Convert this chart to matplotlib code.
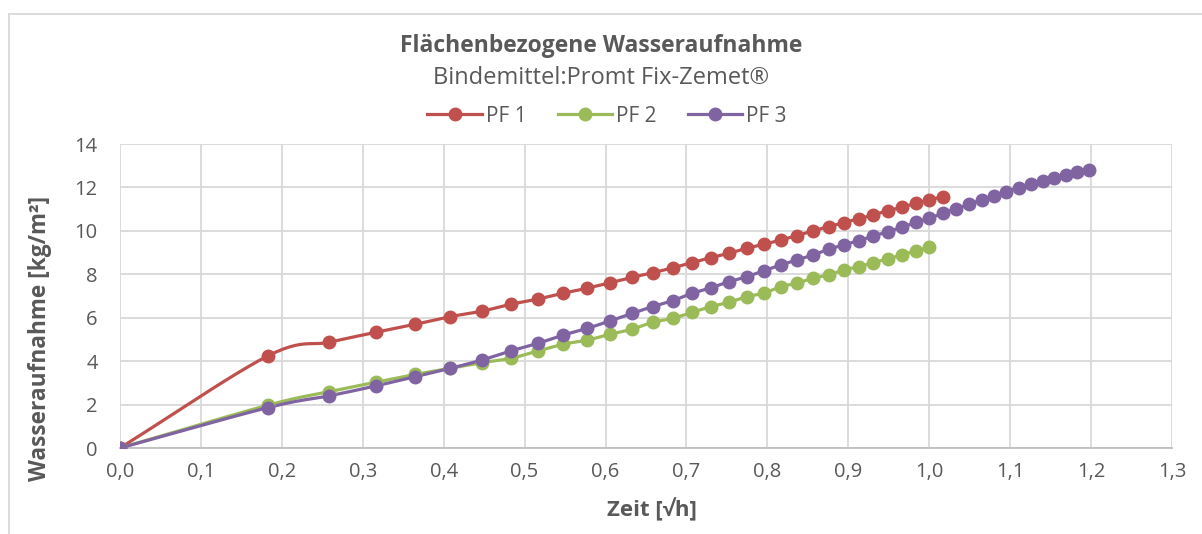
import numpy as np
import matplotlib
matplotlib.use("Agg")
import matplotlib.pyplot as plt
from matplotlib.lines import Line2D

plt.rcParams['font.family'] = ['Open Sans', 'DejaVu Sans']

# Zeit [sqrt h] - gemeinsame Messzeitpunkte
zeit = [0.0, 0.1826, 0.2582, 0.3162, 0.3651, 0.4082, 0.4472, 0.4830, 0.5164,
        0.5477, 0.5774, 0.6055, 0.6325, 0.6583, 0.6831, 0.7071, 0.7303, 0.7528,
        0.7746, 0.7958, 0.8165, 0.8367, 0.8563, 0.8756, 0.8944, 0.9129, 0.9309,
        0.9487, 0.9661, 0.9832, 1.0000, 1.0165, 1.0328, 1.0488, 1.0646, 1.0801,
        1.0954, 1.1106, 1.1255, 1.1402, 1.1547, 1.1690, 1.1832, 1.1972]

pf1 = [0.0, 4.24, 4.87, 5.33, 5.70, 6.05, 6.30, 6.62, 6.86, 7.13, 7.36, 7.61,
       7.86, 8.07, 8.30, 8.54, 8.77, 8.97, 9.20, 9.38, 9.58, 9.78, 10.00, 10.19,
       10.38, 10.56, 10.73, 10.93, 11.08, 11.27, 11.42, 11.58]
pf2 = [0.0, 1.97, 2.59, 3.03, 3.39, 3.67, 3.93, 4.13, 4.47, 4.78, 4.97, 5.24,
       5.47, 5.79, 5.97, 6.25, 6.51, 6.71, 6.97, 7.13, 7.43, 7.59, 7.82, 7.97,
       8.20, 8.35, 8.54, 8.71, 8.89, 9.07, 9.24]
pf3 = [0.0, 1.86, 2.40, 2.86, 3.29, 3.67, 4.05, 4.47, 4.82, 5.20, 5.51, 5.85,
       6.20, 6.51, 6.79, 7.12, 7.38, 7.66, 7.89, 8.17, 8.43, 8.66, 8.89, 9.15,
       9.35, 9.55, 9.76, 9.96, 10.16, 10.39, 10.58, 10.81, 11.01, 11.22, 11.42,
       11.62, 11.81, 11.99, 12.15, 12.31, 12.45, 12.57, 12.70, 12.81]

namen = ['PF 1', 'PF 2', 'PF 3']
farben = ['#C0504D', '#9BBB59', '#8064A2']
x_ticks = np.arange(0, 1.31, 0.1)
y_ticks = np.arange(0, 15, 2)


def glatt(x, y, n=12):
    # Catmull-Rom, wie die "geglaettete Linie" in Excel
    x = np.asarray(x, float)
    y = np.asarray(y, float)
    px = np.concatenate([[2 * x[0] - x[1]], x, [2 * x[-1] - x[-2]]])
    py = np.concatenate([[2 * y[0] - y[1]], y, [2 * y[-1] - y[-2]]])
    xs, ys = [x[0]], [y[0]]
    t = np.linspace(0, 1, n + 1)[1:]
    for i in range(1, len(px) - 2):
        for p, out in ((px, xs), (py, ys)):
            p0, p1, p2, p3 = p[i - 1], p[i], p[i + 1], p[i + 2]
            out.extend(0.5 * (2 * p1 + (-p0 + p2) * t
                              + (2 * p0 - 5 * p1 + 4 * p2 - p3) * t ** 2
                              + (-p0 + 3 * p1 - 3 * p2 + p3) * t ** 3))
    return xs, ys


fig = plt.figure(figsize=(12.02, 5.34), dpi=100)
ax = fig.add_axes([120 / 1202, 1 - 448 / 534, 1052 / 1202, 304 / 534])

for reihe, name, farbe in zip([pf1, pf2, pf3], namen, farben):
    xs, ys = glatt(zeit[:len(reihe)], reihe)
    ax.plot(xs, ys, color=farbe, lw=2.3, zorder=3, solid_capstyle='round')
    ax.plot(zeit[:len(reihe)], reihe, 'o', color=farbe, ms=9, zorder=4)

ax.set_xlim(0, 1.3)
ax.set_ylim(0, 14)
ax.set_xticks(x_ticks)
ax.set_yticks(y_ticks)
ax.set_xticklabels([f'{v:.1f}'.replace('.', ',') for v in x_ticks])
ax.set_yticklabels([str(int(v)) for v in y_ticks])
ax.grid(True, color='#d9d9d9', lw=1.3)
ax.tick_params(length=0, colors='#595959', labelsize=14.5)
ax.tick_params(axis='y', pad=16)
ax.tick_params(axis='x', pad=10)
for s in ['top', 'right', 'left']:
    ax.spines[s].set_visible(False)
ax.spines['bottom'].set_color('#bfbfbf')
ax.spines['bottom'].set_linewidth(1.3)
ax.set_axisbelow(True)

ax.set_xlabel('Zeit [√h]', fontsize=16, fontweight='bold', color='#595959')
ax.set_ylabel('Wasseraufnahme [kg/m²]', fontsize=16.3, fontweight='bold', color='#595959')
ax.xaxis.set_label_coords(0.5 + 6 / 1052, (448 - 510) / 304)
ax.yaxis.set_label_coords((40 - 120) / 1052, (448 - 338) / 304)
ax.xaxis.label.set_va('center')
ax.yaxis.label.set_va('center')

fig.text(0.5, 1 - 46 / 534, 'Flächenbezogene Wasseraufnahme', ha='center', va='center',
         fontsize=16.5, fontweight='bold', color='#595959')
fig.text(0.5, 1 - 78 / 534, 'Bindemittel:Promt Fix-Zemet®', ha='center', va='center',
         fontsize=17, color='#595959')

handles = [Line2D([], [], color=f, lw=2.3, marker='o', ms=9) for f in farben]
fig.legend(handles, namen, loc='center', bbox_to_anchor=(0.505, 1 - 116 / 534), ncol=3,
           frameon=False, fontsize=15, labelcolor='#595959', handlelength=2.6,
           handletextpad=0.2, columnspacing=1.5)

# Rahmen des Diagrammbereichs
fig.add_artist(Line2D([9 / 1202, 9 / 1202], [0, 1 - 14 / 534], transform=fig.transFigure,
                      color='#d9d9d9', lw=1.3))
fig.add_artist(Line2D([9 / 1202, 1], [1 - 14 / 534, 1 - 14 / 534], transform=fig.transFigure,
                      color='#d9d9d9', lw=1.3))

fig.savefig('out.png', dpi=100)
